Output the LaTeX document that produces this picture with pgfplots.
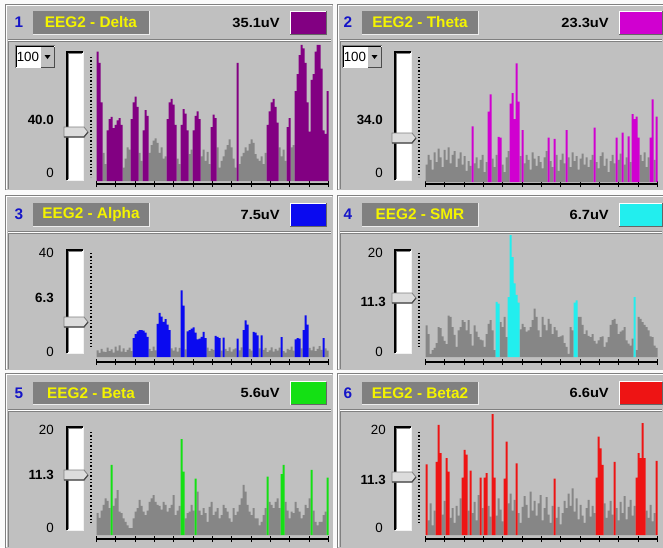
\documentclass[border=0pt]{standalone}
\usepackage{pgfplots}
\pgfplotsset{compat=1.18}
\usepackage{pgfplotstable}
\usepackage{fontspec}
\setmainfont{Liberation Sans}
\usepackage{graphicx}

\definecolor{pbg}{HTML}{C0C0C0}
\definecolor{dkg}{HTML}{808080}
\definecolor{bargray}{HTML}{868686}
\definecolor{ttl}{HTML}{F4F400}
\definecolor{numblue}{HTML}{1414C8}
\definecolor{cDelta}{HTML}{820082}
\definecolor{cTheta}{HTML}{D000D0}
\definecolor{cAlpha}{HTML}{0A0AF0}
\definecolor{cSMR}{HTML}{22EEEE}
\definecolor{cBeta}{HTML}{14E014}
\definecolor{cBetaTwo}{HTML}{EE1414}
\definecolor{thumb}{HTML}{DCDCDC}

% ---------------- data (one value per bar, in the panel's scale units) ----------------
\pgfplotstableread[row sep=\\]{v\\
115\\105\\70\\25\\15\\45\\55\\57\\47\\50\\54\\56\\50\\12\\20\\30\\28\\55\\70\\75\\66\\25\\18\\45\\63\\58\\25\\32\\36\\38\\34\\25\\30\\20\\22\\55\\70\\73\\68\\50\\20\\15\\50\\64\\60\\45\\24\\28\\45\\58\\62\\55\\22\\28\\18\\26\\15\\48\\59\\56\\30\\12\\18\\22\\28\\32\\37\\30\\20\\12\\105\\15\\22\\25\\30\\27\\33\\37\\34\\24\\20\\18\\22\\15\\25\\50\\62\\70\\73\\66\\52\\30\\22\\28\\18\\48\\56\\30\\32\\80\\95\\112\\121\\118\\105\\70\\44\\90\\95\\115\\121\\121\\100\\45\\42\\80\\
}\tDelta
\pgfplotstableread[row sep=\\]{v\\
14\\22\\18\\10\\24\\16\\27\\20\\12\\26\\18\\28\\15\\22\\25\\12\\19\\24\\14\\21\\9\\17\\13\\45\\15\\20\\11\\18\\22\\8\\16\\57\\71\\19\\12\\22\\36.5\\36\\14\\8\\20\\25\\63.5\\72\\51\\96\\65\\21\\42\\15\\22\\18\\10\\24\\19\\13\\21\\16\\11\\20\\25\\36\\17\\12\\35\\22\\9\\18\\23\\15\\42\\20\\12\\24\\17\\21\\10\\19\\23\\14\\20\\12\\18\\22\\44\\16\\11\\21\\24\\13\\19\\8\\17\\22\\15\\36\\18\\23\\40\\14\\20\\37\\16\\55\\51\\53\\36\\22\\17\\24\\12\\20\\36\\67\\18\\53\\
}\tTheta
\pgfplotstableread[row sep=\\]{v\\
2.5\\1.5\\3\\2\\1.8\\3.5\\2.2\\2.8\\1.6\\3.8\\2.4\\4.3\\2\\3.2\\1.8\\2.6\\3.5\\2.2\\7\\8.5\\9.5\\10\\10\\9.8\\9\\7.5\\3\\2.2\\3.8\\2.5\\12.3\\16.3\\15\\13\\14\\12\\10\\3.2\\2.4\\3.6\\2\\3.4\\24.7\\19\\2.8\\9.5\\10\\10.5\\11\\9\\6.5\\6.8\\7.5\\9.3\\7\\3.5\\2.2\\3\\2.6\\7.8\\7.5\\7\\2.4\\7.2\\3\\2.2\\3.6\\2\\2.8\\3.2\\6.8\\2.5\\3.6\\10\\13.6\\12\\3\\2.4\\9.3\\9\\8\\3.2\\8\\2.6\\3.4\\1.8\\2.5\\3.6\\2\\3\\2.4\\3.5\\7.4\\2.2\\1.6\\3\\2.6\\3.8\\2.4\\6.5\\7\\6.8\\3.2\\10\\15.4\\12\\3.4\\2.5\\3.8\\2.2\\3\\4\\2.6\\7\\3.2\\2.4\\
}\tAlpha
\pgfplotstableread[row sep=\\]{v\\
6.9\\5\\0.7\\1.5\\2\\3\\6.5\\6.3\\4.5\\3.5\\2.8\\9\\8.7\\6.5\\4.8\\2.2\\5.8\\6.5\\8\\7.6\\5.8\\8\\5\\2.5\\6.9\\5.5\\4.3\\3.8\\3.6\\2.2\\5\\7.2\\8\\5.8\\1.5\\12\\11.6\\7.6\\6.5\\8.7\\4.3\\13\\26.5\\21.7\\16\\13.5\\11.8\\6\\7.2\\6.5\\5.5\\5.8\\6.5\\8\\10.5\\8.7\\5.8\\4.3\\8.7\\7\\5.8\\8.3\\7.2\\5\\6.5\\5.8\\4.3\\4.5\\4.7\\3\\2.2\\0.7\\6.5\\5.8\\11.8\\12.3\\8.7\\8.7\\7\\5\\5.8\\4.6\\4.3\\5\\3.5\\2.9\\3.6\\4.3\\4.5\\2.2\\3.2\\4.3\\7\\8\\8.3\\7.2\\5\\5.5\\5.8\\6.5\\3.6\\2.9\\2.5\\4\\13\\1.5\\8.7\\8.3\\7.6\\7\\6.5\\5.8\\4.5\\4.3\\2.5\\2\\
}\tSMR
\pgfplotstableread[row sep=\\]{v\\
4.5\\3.5\\5\\6.2\\7.5\\7\\5.5\\14.4\\6\\7.5\\9.2\\4.8\\4.5\\3.4\\2.7\\2\\1.4\\1.4\\3.4\\4.8\\5.5\\7.2\\6\\4.8\\4.1\\5\\6.8\\7.5\\8.2\\6.8\\6.2\\6\\5.2\\6.8\\6.2\\4.8\\5.5\\6.2\\8.2\\4.1\\5\\6\\19.7\\13\\3.4\\4.5\\4.8\\6.2\\5\\11.6\\8.9\\5\\4.1\\5.5\\4.5\\2.7\\5.8\\6.8\\4.1\\4.8\\5.5\\3.4\\4.1\\6.2\\5.5\\4.8\\3.4\\2.7\\5.5\\4.1\\4.8\\6.2\\7.5\\10.3\\8.9\\6.2\\4.8\\4.1\\5.5\\3.4\\3.4\\2\\2.7\\4.1\\5.5\\12\\6.8\\6.2\\5.5\\6.8\\7.5\\5.5\\12.5\\14.4\\6.8\\5\\3.4\\4.8\\4.5\\6.8\\5.5\\4.8\\3.4\\4.1\\6.2\\5.5\\7.5\\13.4\\5\\2.7\\2\\2.7\\2.7\\4.1\\4.8\\11.8\\
}\tBeta
\pgfplotstableread[row sep=\\]{v\\
14.5\\3\\6.5\\2\\5\\15\\22.6\\16.8\\4.2\\7\\15.8\\13\\3.5\\5.5\\2.5\\6\\4\\7.5\\11.8\\17.5\\16.5\\5\\13.2\\4.5\\6.8\\3\\8.2\\11.8\\5.5\\11.8\\12.7\\6\\3.8\\24.8\\11.8\\4\\7.5\\5.2\\2.8\\11.6\\19.2\\6.5\\8.5\\5\\7.2\\14.7\\4.5\\2.5\\5.8\\8\\6.2\\3.5\\8.9\\5\\7\\4\\6.5\\8.2\\3\\5.5\\7.8\\4.2\\2.5\\6\\11.6\\3.5\\5.8\\2.2\\4.5\\7\\5.5\\8.5\\6\\9.6\\4.8\\7.5\\3.2\\6.2\\4\\2.5\\5.5\\7.2\\3.8\\6\\4.5\\11.8\\20.2\\17.8\\14.4\\6.5\\3.5\\5\\7\\4.2\\15\\5.5\\3\\6.8\\4.5\\8\\3.2\\5.8\\7.2\\4\\6\\11.8\\16.8\\15.8\\23\\15.8\\5\\3.5\\6.2\\2.8\\4.5\\15.2\\
}\tBetaTwo

% #1 left x px, #2 tick-line y px, #3 bar-bottom y px, #4 top y px, #5 px per unit, #6 threshold, #7 table, #8 colour
\newcommand{\chart}[8]{%
  \pgfmathsetmacro{\ymn}{-(#2-#3)/#5}%
  \pgfmathsetmacro{\ymx}{(#3-#4)/#5}%
  \pgfmathsetmacro{\hh}{(#2-#4)*0.75}%
  \begin{axis}[at={({#1*0.75pt},{-#2*0.75pt})}, anchor=south west,
    scale only axis, width=174pt, height=\hh pt,
    xmin=-0.5, xmax=115.5, ymin=\ymn, ymax=\ymx,
    axis x line*=bottom, axis y line=none,
    axis line style={-, black, line width=0.8pt},
    xtick={-0.5,9.1667,18.8333,28.5,38.1667,47.8333,57.5,67.1667,76.8333,86.5,96.1667,105.8333,115.5},
    xticklabels={}, ytick=\empty,
    tick align=center, major tick length=4.5pt,
    tick style={black, line width=0.8pt}]
    \addplot[ybar, bar width=1, bar shift=0pt, fill=bargray, draw=none,
      restrict y to domain=0:#6] table[x expr=\coordindex, y=v]{#7};
    \addplot[ybar, bar width=1, bar shift=0pt, fill=#8, draw=none,
      restrict y to domain=#6:1000] table[x expr=\coordindex, y=v]{#7};
  \end{axis}}

% header: #1 dx, #2 ymid, #3 number, #4 title, #5 value, #6 colour, #7 swatch right
\newcommand{\hdr}[7]{%
  \node[font=\fontsize{11.5}{13}\selectfont\bfseries, text=numblue] at ({19+#1},{-#2}) {#3};
  \fill[dkg] ({33+#1},{-#2+11.5}) rectangle ({149+#1},{-#2-11.5});
  \draw[white!85!gray, line width=0.75pt] ({33+#1},{-#2-11.5}) -- ({149+#1},{-#2-11.5}) -- ({149+#1},{-#2+11.5});
  \node[font=\fontsize{11.5}{13}\selectfont\bfseries, text=ttl] at ({91+#1},{-#2}) {#4};
  \node[anchor=east, font=\fontsize{10}{12}\selectfont\bfseries, inner sep=0pt] at ({280+#1},{-#2}) {\scalebox{1.1}[1]{#5}};
  \fill[#6] ({290+#1},{-#2+11.5}) rectangle (#7,{-#2-11.5});
  \draw[black!60, line width=0.75pt] ({290+#1},{-#2-11.5}) -- (#7,{-#2-11.5}) -- (#7,{-#2+11.5});
  \draw[white, line width=0.75pt] ({290+#1},{-#2-11.5}) -- ({290+#1},{-#2+11.5}) -- (#7,{-#2+11.5});
}

% slider: #1 left x, #2 top y, #3 bottom y, #4 thumb y, #5 dots x, #6 dots top, #7 dots bottom
\newcommand{\slider}[7]{%
  \fill[white] (#1,-#2) rectangle ({#1+16},-#3);
  \draw[black, line width=1.2pt] (#1,-#3) -- (#1,-#2) -- ({#1+16},-#2);
  \draw[dkg, line width=0.75pt] ({#1+1.5},{-#3+1}) -- ({#1+1.5},{-#2-1.5}) -- ({#1+15},{-#2-1.5});
  \draw[white!90!gray, line width=0.75pt] (#1,-#3) -- ({#1+16},-#3) -- ({#1+16},-#2);
  \filldraw[fill=thumb, draw=dkg, line width=0.6pt] ({#1-3},{-#4+5}) -- ({#1+17},{-#4+5}) -- ({#1+21},{-#4}) -- ({#1+17},{-#4-5}) -- ({#1-3},{-#4-5}) -- cycle;
  \draw[black!70, line width=0.9pt] ({#1-3},{-#4-5}) -- ({#1+17},{-#4-5}) -- ({#1+21},{-#4});
  \draw[black, line width=0.9pt, dash pattern=on 0.9pt off 1.6pt] (#5,-#6) -- (#5,-#7);
}

\newcommand{\dropdown}[1]{%
  \fill[white] ({15+#1},-45) rectangle ({55+#1},-68);
  \draw[dkg, line width=0.75pt] ({15+#1},-68) -- ({15+#1},-45) -- ({55+#1},-45);
  \draw[black, line width=0.6pt] ({16+#1},-67) -- ({16+#1},-46) -- ({54+#1},-46);
  \fill[pbg] ({41+#1},-47) rectangle ({54+#1},-67);
  \draw[black!70, line width=0.75pt] ({41+#1},-67) -- ({54+#1},-67) -- ({54+#1},-47);
  \fill[black] ({44.5+#1},-55) -- ({50.5+#1},-55) -- ({47.5+#1},-59) -- cycle;
  \node[anchor=west, font=\fontsize{10}{12}\selectfont, inner sep=0pt] at ({16.5+#1},-56.5) {100};
}

\begin{document}
\begin{tikzpicture}[x=0.75pt,y=0.75pt]
\useasboundingbox (0,0) rectangle (663,-547);
\fill[white!96!gray] (0,0) rectangle (663,-547);

% panels
\foreach \xa/\xb in {5/333,337/664}{
  \foreach \ya/\yb/\yc/\yd in {4/39/40/190,195/231/232/370,373/409/410/548}{
    \fill[pbg] (\xa,-\ya) rectangle (\xb,-\yd);
    \draw[dkg, line width=0.75pt] (\xa,-\yd) -- (\xa,-\ya) -- (\xb,-\ya);
    \draw[white, line width=0.75pt] ({\xa+1},{-\yd+1}) -- ({\xa+1},{-\ya-1.5}) -- ({\xb-1},{-\ya-1.5});
    \draw[dkg, line width=0.75pt] ({\xa+3},{-\yb}) -- ({\xb-2},{-\yb});
    \draw[white, line width=0.75pt] ({\xa+3},{-\yc-0.5}) -- ({\xb-2},{-\yc-0.5});
    \draw[dkg, line width=0.75pt] ({\xa+3},{-\yd+1}) -- ({\xa+3},{-\yc-1.5}) -- ({\xb-2},{-\yc-1.5});
  }
}

% headers
\hdr{0}{22.5}{1}{EEG2 - Delta}{35.1uV}{cDelta}{326}
\hdr{329}{22.5}{2}{EEG2 - Theta}{23.3uV}{cTheta}{662}
\hdr{0}{214.5}{3}{EEG2 - Alpha}{7.5uV}{cAlpha}{326}
\hdr{329}{214.5}{4}{EEG2 - SMR}{6.7uV}{cSMR}{662}
\hdr{0}{393}{5}{EEG2 - Beta}{5.6uV}{cBeta}{326}
\hdr{329}{393}{6}{EEG2 - Beta2}{6.6uV}{cBetaTwo}{662}

% sliders
\slider{67}{52}{180}{132}{91}{57}{177}
\slider{395}{52}{180}{138}{419}{57}{177}
\slider{67}{250}{353}{322}{91}{253}{347}
\slider{395}{250}{353}{298}{419}{253}{347}
\slider{67}{427}{530}{475}{91}{432}{525}
\slider{395}{427}{530}{477}{419}{432}{525}

\dropdown{0}
\dropdown{327}

% scale labels
\tikzset{lab/.style={anchor=east, inner sep=0pt, font=\fontsize{10}{12}\selectfont}, labb/.style={lab, font=\fontsize{10}{12}\selectfont\bfseries}}
\node[labb] at (54,-120) {40.0};
\node[lab] at (54,-173) {0};
\node[labb] at (383,-120) {34.0};
\node[lab] at (383,-173) {0};
\node[lab] at (54,-253) {40};
\node[labb] at (54,-298) {6.3};
\node[lab] at (54,-352) {0};
\node[lab] at (383,-253) {20};
\node[labb] at (386,-302) {11.3};
\node[lab] at (383,-352) {0};
\node[lab] at (54,-430) {20};
\node[labb] at (54,-475) {11.3};
\node[lab] at (54,-528) {0};
\node[lab] at (386,-430) {20};
\node[labb] at (386,-480) {11.3};
\node[lab] at (383,-528) {0};

% charts
\chart{96.5}{184}{181}{41}{1.125}{40}{\tDelta}{cDelta}
\chart{425.5}{184}{182}{41}{1.235}{34}{\tTheta}{cTheta}
\chart{96.5}{362}{357}{233}{2.7}{6.3}{\tAlpha}{cAlpha}
\chart{425.5}{362}{357}{233}{4.6}{11.3}{\tSMR}{cSMR}
\chart{96.5}{539}{535}{411}{4.87}{11.3}{\tBeta}{cBeta}
\chart{425.5}{539}{535}{411}{4.87}{11.3}{\tBetaTwo}{cBetaTwo}
\end{tikzpicture}
\end{document}
